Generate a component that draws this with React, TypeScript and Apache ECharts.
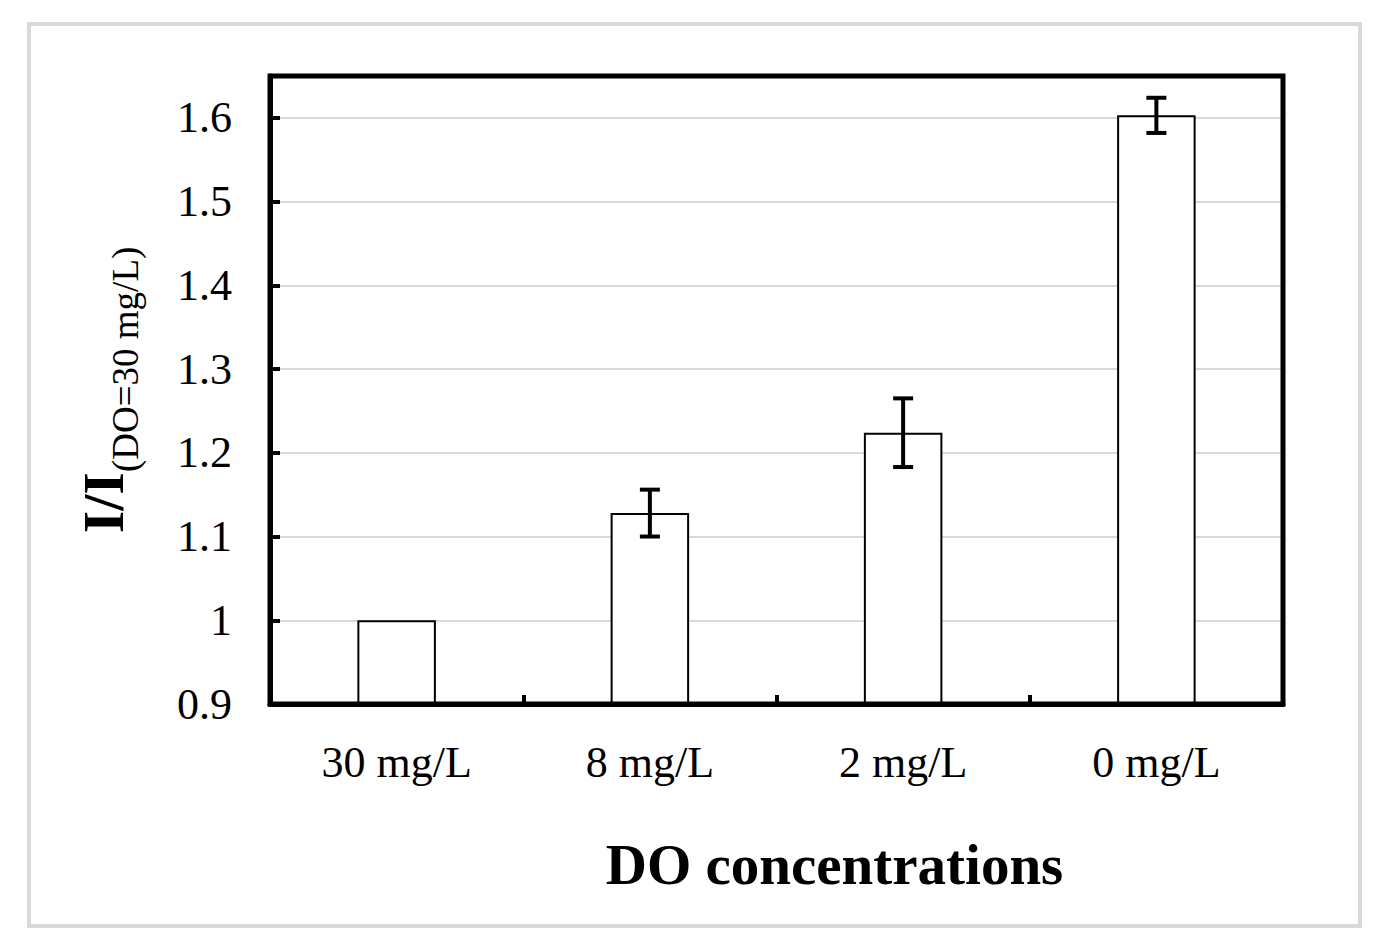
import React, { useEffect, useRef } from "react";
import * as echarts from "echarts";

const categories = ["30 mg/L", "8 mg/L", "2 mg/L", "0 mg/L"];
const means = [1.0, 1.128, 1.224, 1.603];
const errors = [0, 0.028, 0.041, 0.021];
const yMin = 0.9;
const yMax = 1.65;
const yInterval = 0.1;

const FONT = "Liberation Serif";

export default function App() {
  const ref = useRef<HTMLDivElement>(null);

  useEffect(() => {
    if (!ref.current) return;
    const chart = echarts.init(ref.current, null, { renderer: "svg" });
    const errData = means.map((m, i) => [i, m, errors[i]]);

    chart.setOption({
      animation: false,
      backgroundColor: "#ffffff",
      graphic: [
        {
          type: "rect",
          shape: { x: 29, y: 24, width: 1331, height: 902 },
          style: { fill: "none", stroke: "#d9d9d9", lineWidth: 4 },
          silent: true,
          z: -10,
        },
      ],
      grid: {
        left: 270,
        right: 101,
        top: 76,
        bottom: 247,
        show: true,
        z: 10,
        borderColor: "#000",
        borderWidth: 5,
        backgroundColor: "transparent",
      },
      xAxis: {
        type: "category",
        data: categories,
        name: "DO concentrations",
        nameLocation: "middle",
        nameGap: 132,
        nameTextStyle: {
          fontFamily: FONT,
          fontSize: 57,
          fontWeight: "bold",
          color: "#000",
          padding: [0, 0, 0, 116],
        },
        axisLine: { lineStyle: { color: "#000", width: 5 } },
        axisTick: {
          show: true,
          inside: true,
          length: 9,
          lineStyle: { color: "#000", width: 4 },
        },
        axisLabel: {
          fontFamily: FONT,
          fontSize: 44,
          color: "#000",
          margin: 36,
        },
        splitLine: { show: false },
      },
      yAxis: {
        type: "value",
        min: yMin,
        max: yMax,
        interval: yInterval,
        name: "{a|I/I}{b|(DO=30 mg/L)}",
        nameLocation: "middle",
        nameRotate: 90,
        nameGap: 126,
        nameTextStyle: {
          color: "#000",
          rich: {
            a: {
              fontFamily: FONT,
              fontSize: 58,
              fontWeight: "bold",
              color: "#000",
              lineHeight: 58,
              verticalAlign: "bottom",
              padding: [0, 0, 12, 0],
            },
            b: {
              fontFamily: FONT,
              fontSize: 37,
              color: "#000",
              lineHeight: 37,
              verticalAlign: "bottom",
            },
          },
        },
        axisLine: { show: true, lineStyle: { color: "#000", width: 5 } },
        axisTick: {
          show: true,
          inside: true,
          length: 10,
          lineStyle: { color: "#000", width: 4 },
        },
        axisLabel: {
          fontFamily: FONT,
          fontSize: 44,
          color: "#000",
          margin: 38,
          showMaxLabel: false,
        },
        splitLine: { show: true, lineStyle: { color: "#d9d9d9", width: 2 } },
      },
      series: [
        {
          type: "bar",
          data: means,
          barWidth: "31%",
          itemStyle: { color: "#fff", borderColor: "#000", borderWidth: 2 },
          z: 3,
        },
        {
          type: "custom",
          data: errData,
          z: 5,
          renderItem: (params: any, api: any) => {
            const x = api.value(0);
            const y = api.value(1);
            const e = api.value(2);
            if (!e) return null;
            const top = api.coord([x, y + e]);
            const bot = api.coord([x, y - e]);
            const half = 10;
            const style = { stroke: "#000", lineWidth: 4 };
            return {
              type: "group",
              children: [
                { type: "line", shape: { x1: top[0], y1: top[1], x2: bot[0], y2: bot[1] }, style },
                { type: "line", shape: { x1: top[0] - half, y1: top[1], x2: top[0] + half, y2: top[1] }, style },
                { type: "line", shape: { x1: bot[0] - half, y1: bot[1], x2: bot[0] + half, y2: bot[1] }, style },
              ],
            };
          },
        },
      ],
    });

    return () => chart.dispose();
  }, []);

  return (
    <div
      ref={ref}
      style={{ position: "absolute", left: 0, top: 0, width: 1384, height: 951 }}
    />
  );
}
